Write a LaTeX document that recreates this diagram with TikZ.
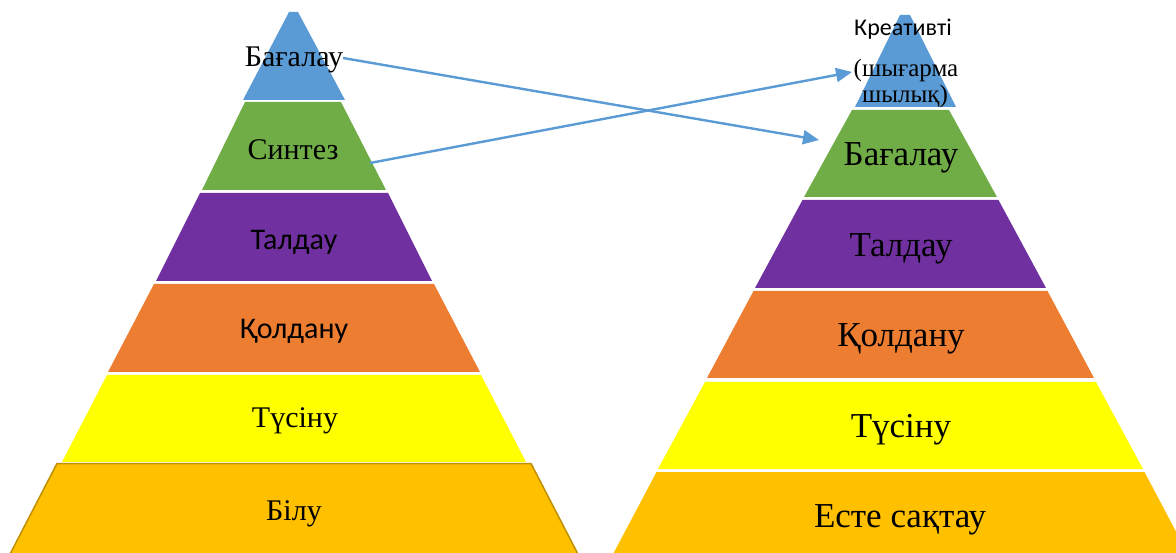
\documentclass[tikz,border=0pt]{standalone}
\usepackage{fontspec}
\setmainfont{Liberation Serif}
\newfontfamily\sansk{Carlito}
\usetikzlibrary{arrows.meta}
\definecolor{cblue}{HTML}{5B9BD5}
\definecolor{cgreen}{HTML}{70AD47}
\definecolor{cpurple}{HTML}{7030A0}
\definecolor{corange}{HTML}{ED7D31}
\definecolor{cyellow}{HTML}{FFFF00}
\definecolor{cgold}{HTML}{FFC000}
\definecolor{cgoldedge}{HTML}{BF9000}
\begin{document}
\begin{tikzpicture}[x=1pt,y=-1pt,
  lbl/.style={inner sep=0pt, text=black},
  smallL/.style={lbl, font=\fontsize{30}{33}\selectfont},
  smallS/.style={lbl, font=\sansk\fontsize{30}{33}\selectfont},
  bigR/.style={lbl, font=\fontsize{35}{39}\selectfont},
  conn/.style={draw=cblue, line width=2.4pt, -{Triangle[length=16pt,width=14pt]}}]
\useasboundingbox (0,0) rectangle (1176,553);
% left pyramid
\fill[cblue] (289,12) -- (298,12) -- (345,100) -- (243,100) -- cycle;
\fill[cgreen] (245,102) -- (341,102) -- (386,190) -- (202,190) -- cycle;
\fill[cpurple] (200,193) -- (388,193) -- (432,281) -- (156,281) -- cycle;
\fill[corange] (154,284) -- (434,284) -- (480,372) -- (108,372) -- cycle;
\fill[cyellow] (107,375) -- (481,375) -- (526,462) -- (62,462) -- cycle;
\filldraw[fill=cgold, draw=cgoldedge, line width=1.5pt] (57,463.5) -- (531,463.5) -- (580,558) -- (8,558) -- cycle;
% right pyramid
\fill[cblue] (900,15) -- (910,15) -- (956,107) -- (855,107) -- cycle;
\fill[cgreen] (852,110) -- (949,110) -- (997,197) -- (804,197) -- cycle;
\fill[cpurple] (802.5,200) -- (998.5,200) -- (1046,288) -- (755,288) -- cycle;
\fill[corange] (753.5,291) -- (1047.5,291) -- (1094,378) -- (707,378) -- cycle;
\fill[cyellow] (705,382) -- (1096,382) -- (1143,469) -- (658,469) -- cycle;
\fill[cgold] (656.5,472) -- (1144.5,472) -- (1190,558) -- (611,558) -- cycle;
% left labels
\node[smallL] (lbag) at (294,60) {Бағалау};
\node[smallL] (lsyn) at (293,150) {Синтез};
\node[smallS] (ltal) at (294,242) {Талдау};
\node[smallS] (lqol) at (294,331) {Қолдану};
\node[smallL] (ltus) at (295,421) {Түсіну};
\node[smallL] (lbil) at (294,514) {Білу};
% right labels
\node[lbl, font=\sansk\fontsize{24}{26}\selectfont] (rkre) at (903,29) {Креативті};
\node[lbl, font=\fontsize{25}{28}\selectfont] (rshy) at (906,70) {(шығарма};
\node[lbl, font=\fontsize{25}{28}\selectfont] (rshl) at (905,96) {шылық)};
\node[bigR] (rbag) at (901,158) {Бағалау};
\node[bigR] (rtal) at (901,249) {Талдау};
\node[bigR] (rqol) at (901,339) {Қолдану};
\node[bigR] (rtus) at (901,430) {Түсіну};
\node[bigR] (rest) at (900,520) {Есте сақтау};
% connectors
\coordinate (a1s) at (343,58);
\coordinate (a1e) at (819,140);
\coordinate (a2s) at (370,163);
\coordinate (a2e) at (852,72);
\draw[conn] (a1s) -- (a1e);
\draw[conn] (a2s) -- (a2e);
\end{tikzpicture}
\end{document}
